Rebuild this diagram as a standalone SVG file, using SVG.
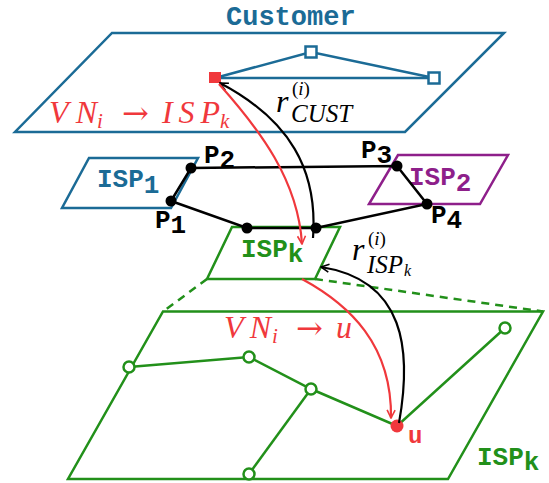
<svg xmlns="http://www.w3.org/2000/svg" width="549" height="483" viewBox="0 0 549 483">
<style>
.blue{stroke:#1b6b96;fill:none;stroke-width:2.5}
.green{stroke:#22901a;fill:none;stroke-width:2.5}
.purple{stroke:#8e1f8a;fill:none;stroke-width:2.5}
.blk{stroke:#000;fill:none;stroke-width:2.5}
.mono{font-family:"Liberation Mono","Courier New",monospace;font-weight:bold}
.math{font-family:"Liberation Serif","Times New Roman",serif;font-style:italic}
.up{font-family:"Liberation Serif","Times New Roman",serif}
.arr{font-family:"DejaVu Serif",serif}
.gn{fill:#fff;stroke:#22901a;stroke-width:2.5}
.bn{fill:#000}
</style>
<defs>
<marker id="ahk" viewBox="0 0 10 10" refX="9" refY="5" markerWidth="10" markerHeight="10" markerUnits="userSpaceOnUse" orient="auto">
<path d="M1,1 L9,5 L1,9" fill="none" stroke="#000" stroke-width="1.6"/>
</marker>
<marker id="ahr" viewBox="0 0 10 10" refX="9" refY="5" markerWidth="10" markerHeight="10" markerUnits="userSpaceOnUse" orient="auto">
<path d="M1,1 L9,5 L1,9" fill="none" stroke="#f0383c" stroke-width="1.6"/>
</marker>
</defs>
<rect width="549" height="483" fill="#fff"/>

<g id="customer">
<text class="mono" x="226" y="25" font-size="27" fill="#1b6b96">Customer</text>
<polygon class="blue" points="112,33 504,33 405,132 15,132"/>
<polyline class="blue" points="215,78 311,52 434,78"/>
<line class="blue" x1="215" y1="78" x2="434" y2="78"/>
<rect x="305.5" y="46.5" width="11" height="11" fill="#fff" stroke="#1b6b96" stroke-width="2.5"/>
<rect x="428.5" y="72.5" width="11" height="11" fill="#fff" stroke="#1b6b96" stroke-width="2.5"/>
<rect x="209" y="72" width="12" height="11" fill="#f0383c"/>
<g fill="#f0383c">
<text class="math" x="49" y="123" font-size="32" textLength="48" lengthAdjust="spacing">VN</text>
<text class="math" x="97" y="128" font-size="21">i</text>
<text class="arr" x="122" y="124" font-size="32">→</text>
<text class="math" x="162" y="123" font-size="32" textLength="58" lengthAdjust="spacing">ISP</text>
<text class="math" x="220" y="128" font-size="21">k</text>
</g>
</g>

<g id="isp1">
<polygon class="blue" points="89,158 198,158 171,208 62,208"/>
<text class="mono" x="97" y="187" font-size="26" fill="#1b6b96">ISP<tspan dy="6">1</tspan></text>
</g>

<g id="isp2">
<polygon class="purple" points="398,155 508,155 480,204 369,204"/>
<text class="mono" x="409" y="185" font-size="26" fill="#8e1f8a">ISP<tspan dy="6">2</tspan></text>
</g>

<g id="ispk">
<polygon class="green" points="232,227 340,227 315,279 207,279"/>
<text class="mono" x="241" y="257" font-size="26" fill="#22901a">ISP<tspan dy="5">k</tspan></text>
</g>

<g id="ispk-plane">
<polygon class="green" points="163,311.5 543,311.5 448,479 68,479"/>
<text class="mono" x="477" y="465" font-size="26" fill="#22901a">ISP<tspan dy="5">k</tspan></text>
<polyline class="green" points="129,367 249,357 311,389 397,426 505,328"/>
<line class="green" x1="311" y1="389" x2="249" y2="474"/>
<circle class="gn" cx="129" cy="367" r="5.5"/>
<circle class="gn" cx="249" cy="357" r="5.5"/>
<circle class="gn" cx="311" cy="389" r="5.5"/>
<circle class="gn" cx="249" cy="474" r="5.5"/>
<circle class="gn" cx="505" cy="328" r="5.5"/>
<circle cx="397" cy="426" r="6.5" fill="#f0383c"/>
<text class="mono" x="408" y="443" font-size="24" fill="#f0383c">u</text>
<g fill="#f0383c">
<text class="math" x="224" y="338" font-size="32" textLength="47" lengthAdjust="spacing">VN</text>
<text class="math" x="272" y="343" font-size="21">i</text>
<text class="arr" x="296" y="339" font-size="32">→</text>
<text class="math" x="336" y="338" font-size="32">u</text>
</g>
</g>

<g id="peering">
<polyline class="blk" points="171,201 191,168 397,166 427,204 316,228 247,228 171,201"/>
<circle class="bn" cx="171" cy="201" r="5.5"/>
<circle class="bn" cx="191" cy="168" r="5.5"/>
<circle class="bn" cx="397" cy="166" r="5.5"/>
<circle class="bn" cx="427" cy="204" r="5.5"/>
<circle class="bn" cx="247" cy="228" r="5.5"/>
<circle class="bn" cx="316" cy="228" r="5.5"/>
<text class="mono" x="204" y="163" font-size="26">P<tspan dy="5">2</tspan></text>
<text class="mono" x="155" y="228" font-size="26">P<tspan dy="5">1</tspan></text>
<text class="mono" x="361" y="158" font-size="26">P<tspan dy="5">3</tspan></text>
<text class="mono" x="431" y="223" font-size="26">P<tspan dy="5">4</tspan></text>
</g>

<g id="connectors">
<line class="green" x1="207" y1="279" x2="163" y2="311.5" stroke-dasharray="8,6"/>
<line class="green" x1="315" y1="279" x2="543" y2="311.5" stroke-dasharray="8,6"/>
<path d="M313,238 C318,170 290,120 220,83" stroke="#000" stroke-width="2.2" fill="none" marker-end="url(#ahk)"/>
<path d="M219,84 C260,130 298,180 302,244" stroke="#f0383c" stroke-width="2.2" fill="none" marker-end="url(#ahr)"/>
<path d="M302,279 C350,305 392,345 391,418" stroke="#f0383c" stroke-width="2.2" fill="none" marker-end="url(#ahr)"/>
<path d="M399,423 C412,350 405,280 321,267" stroke="#000" stroke-width="2.2" fill="none" marker-end="url(#ahk)"/>
</g>

<g id="labels">
<text class="math" x="276" y="112" font-size="32">r</text>
<text class="up" x="292" y="95" font-size="19">(<tspan class="math">i</tspan>)</text>
<text class="math" x="291" y="122" font-size="25">CUST</text>
<text class="math" x="352" y="260" font-size="32">r</text>
<text class="up" x="368" y="245" font-size="19">(<tspan class="math">i</tspan>)</text>
<text class="math" x="367" y="273" font-size="25">ISP</text>
<text class="math" x="404" y="276" font-size="16">k</text>
</g>
</svg>
